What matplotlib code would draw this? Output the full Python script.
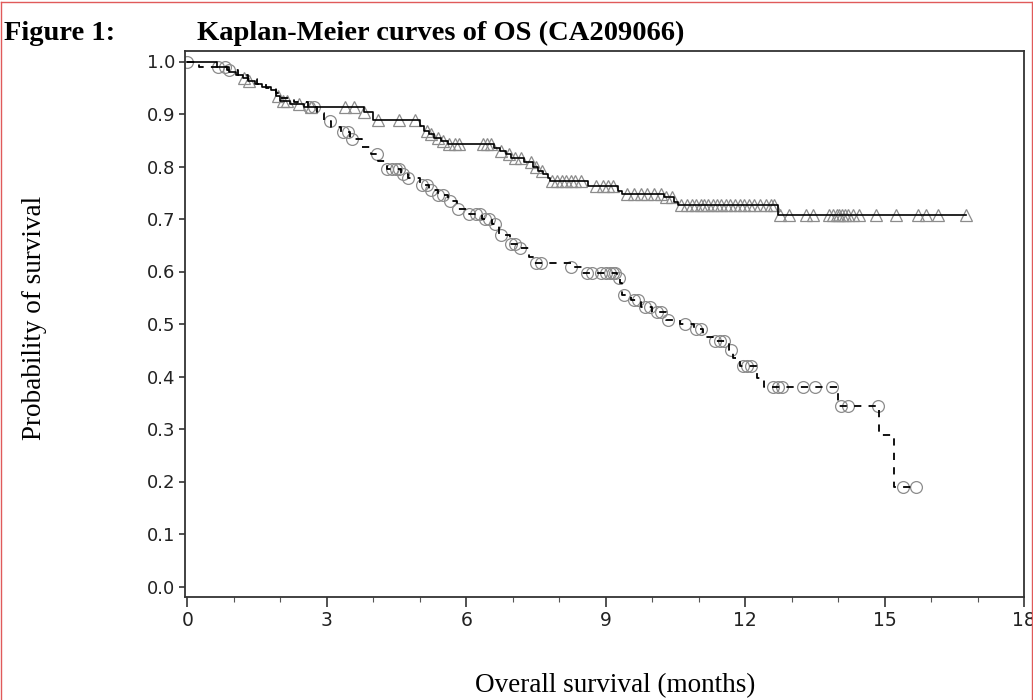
import numpy as np
import matplotlib
matplotlib.use("Agg")
import matplotlib.pyplot as plt
from matplotlib.lines import Line2D

# ---------------- data ----------------
# Nivolumab arm (solid line, triangle censor marks): event times (months) and survival after event
nivo_event_t = [0.64, 0.90, 1.05, 1.20, 1.30, 1.45, 1.60, 1.80, 1.90, 2.00, 2.20, 2.50,
                3.80, 4.00, 5.00, 5.10, 5.20, 5.30, 5.45, 5.60, 6.60, 6.72, 6.86, 6.97,
                7.25, 7.43, 7.55, 7.65, 7.76, 7.80, 8.61, 9.26, 9.35, 10.26, 10.48, 10.55, 12.70]
nivo_event_s = [0.989, 0.980, 0.975, 0.969, 0.963, 0.957, 0.951, 0.946, 0.935, 0.925, 0.920, 0.914,
                0.903, 0.889, 0.877, 0.868, 0.862, 0.855, 0.848, 0.842, 0.835, 0.829, 0.823, 0.817,
                0.809, 0.800, 0.792, 0.786, 0.778, 0.772, 0.763, 0.753, 0.748, 0.742, 0.733, 0.727, 0.707]
nivo_cens_t = [1.22, 1.32, 1.95, 2.05, 2.15, 2.40, 2.65, 3.40, 3.58, 3.80, 4.10, 4.55, 4.90,
               5.15, 5.25, 5.40, 5.50, 5.62, 5.75, 5.85, 6.36, 6.45, 6.54, 6.75, 6.93, 7.05, 7.18,
               7.40, 7.50, 7.62, 7.85, 7.95, 8.05, 8.15, 8.25, 8.35, 8.48, 8.80, 8.95, 9.05, 9.15,
               9.45, 9.60, 9.75, 9.90, 10.05, 10.20, 10.30, 10.42, 10.62, 10.75, 10.85, 10.95,
               11.05, 11.12, 11.20, 11.30, 11.40, 11.48, 11.58, 11.68, 11.78, 11.88, 11.98, 12.08,
               12.20, 12.32, 12.45, 12.55, 12.62, 12.74, 12.95, 13.31, 13.45, 13.81, 13.90, 13.97,
               14.03, 14.08, 14.14, 14.22, 14.32, 14.45, 14.82, 15.24, 15.71, 15.89, 16.14, 16.75]

# Dacarbazine arm (dashed line, circle censor marks)
dac_event_t = [0.25, 0.85, 1.10, 1.30, 1.50, 1.70, 1.90, 2.00, 2.30, 2.60, 2.80, 2.95, 3.10,
               3.30, 3.50, 3.75, 3.95, 4.10, 4.30, 4.60, 4.75, 5.00, 5.20, 5.40, 5.60, 5.80,
               6.05, 6.35, 6.55, 6.70, 6.95, 7.15, 7.35, 7.45, 8.25, 8.50, 9.25, 9.30, 9.35,
               9.55, 9.75, 10.00, 10.30, 10.60, 10.90, 11.10, 11.30, 11.65, 11.75, 11.90, 12.25,
               12.40, 13.99, 14.88, 15.20]
dac_event_s = [0.990, 0.983, 0.975, 0.966, 0.958, 0.950, 0.940, 0.930, 0.922, 0.913, 0.902, 0.886,
               0.876, 0.865, 0.852, 0.838, 0.824, 0.810, 0.795, 0.785, 0.778, 0.765, 0.755, 0.745,
               0.735, 0.720, 0.710, 0.700, 0.690, 0.670, 0.652, 0.645, 0.628, 0.617, 0.608, 0.597,
               0.588, 0.578, 0.556, 0.545, 0.532, 0.522, 0.507, 0.500, 0.490, 0.475, 0.467, 0.450,
               0.435, 0.420, 0.397, 0.380, 0.344, 0.288, 0.190]
dac_cens_t = [0.00, 0.65, 0.80, 0.90, 2.62, 2.72, 3.08, 3.35, 3.45, 3.55, 4.07, 4.30, 4.40, 4.50,
              4.55, 4.65, 4.75, 5.05, 5.15, 5.25, 5.40, 5.50, 5.65, 5.82, 6.07, 6.20, 6.30, 6.40,
              6.50, 6.62, 6.75, 6.97, 7.05, 7.15, 7.50, 7.60, 8.26, 8.60, 8.70, 8.90, 9.00, 9.10,
              9.15, 9.20, 9.28, 9.40, 9.60, 9.70, 9.85, 9.95, 10.10, 10.20, 10.34, 10.70, 10.95,
              11.05, 11.35, 11.45, 11.55, 11.70, 11.95, 12.05, 12.12, 12.60, 12.70, 12.80, 13.25,
              13.50, 13.88, 14.07, 14.22, 14.86, 15.39, 15.67]

x_ticks = [0, 3, 6, 9, 12, 15, 18]
y_ticks = [0.0, 0.1, 0.2, 0.3, 0.4, 0.5, 0.6, 0.7, 0.8, 0.9, 1.0]

title_left = "Figure 1:"
title_main = "Kaplan-Meier curves of OS (CA209066)"
x_label = "Overall survival (months)"
y_label = "Probability of survival"


def surv_at(times, ev_t, ev_s):
    ev_t = np.asarray(ev_t)
    s = np.concatenate([[1.0], np.asarray(ev_s)])
    idx = np.searchsorted(ev_t, np.asarray(times), side="right")
    return s[idx]


def step_xy(ev_t, ev_s, end_t):
    x = np.concatenate([[0.0], ev_t, [end_t]])
    y = np.concatenate([[1.0], ev_s, [ev_s[-1]]])
    return x, y


W, H = 1033, 700
fig = plt.figure(figsize=(W / 100, H / 100), dpi=100)
fig.patch.set_facecolor("white")

ax = fig.add_axes([185 / W, 1 - 597 / H, (1024 - 185) / W, (597 - 51) / H])

serif = ["Liberation Serif", "DejaVu Serif"]
sans = ["DejaVu Sans"]

mk_col = "#8c8c8c"

# dacarbazine
xs, ys = step_xy(dac_event_t, dac_event_s, max(dac_cens_t))
ax.plot(xs, ys, drawstyle="steps-post", color="black", lw=1.3,
        linestyle=(0, (4, 4)), zorder=3)
ax.plot(dac_cens_t, surv_at(dac_cens_t, dac_event_t, dac_event_s), linestyle="none",
        marker="o", markersize=8.5, markerfacecolor="none", markeredgecolor=mk_col,
        markeredgewidth=0.9, zorder=2)

# nivolumab
xs, ys = step_xy(nivo_event_t, nivo_event_s, max(nivo_cens_t))
ax.plot(xs, ys, drawstyle="steps-post", color="black", lw=1.2, zorder=3)
ax.plot(nivo_cens_t, surv_at(nivo_cens_t, nivo_event_t, nivo_event_s), linestyle="none",
        marker="^", markersize=8.5, markerfacecolor="none", markeredgecolor=mk_col,
        markeredgewidth=0.9, zorder=2)

ax.set_xlim(-0.05, 18.0)
ax.set_ylim(-0.02, 1.02)
ax.set_xticks(x_ticks)
ax.set_xticks(np.arange(0, 19, 1), minor=True)
ax.set_yticks(y_ticks)
ax.set_xticklabels([str(v) for v in x_ticks], fontsize=13.5, family=sans)
ax.set_yticklabels([f"{v:.1f}" for v in y_ticks], fontsize=13, family=sans)
ax.tick_params(axis="x", which="major", length=7, width=1.1, direction="out", pad=3, colors="#222222")
ax.tick_params(axis="x", which="minor", length=3.5, width=0.8, direction="out", colors="#555555")
ax.tick_params(axis="y", which="major", length=4, width=1.1, direction="out", pad=3, colors="#222222")
for sp in ax.spines.values():
    sp.set_color("#333333")
    sp.set_linewidth(1.3)

fig.text(4 / W, 1 - 40 / H, title_left, fontsize=20.5, fontweight="bold", family=serif,
         ha="left", va="baseline")
fig.text(197 / W, 1 - 40 / H, title_main, fontsize=20.5, fontweight="bold", family=serif,
         ha="left", va="baseline")
fig.text(615 / W, 1 - 686 / H, x_label, fontsize=19.5, family=serif, ha="center", va="center")
fig.text(35 / W, 1 - 318 / H, y_label, fontsize=19.5, family=serif, ha="center", va="center",
         rotation=90)

# page border (red)
red = "#e05a5a"
fig.add_artist(Line2D([0.5 / W, 0.5 / W], [0, 1 - 1.5 / H], color=red, lw=1.0, transform=fig.transFigure))
fig.add_artist(Line2D([0.5 / W, 1 - 1.5 / W], [1 - 1.5 / H, 1 - 1.5 / H], color=red, lw=1.0, transform=fig.transFigure))
fig.add_artist(Line2D([1 - 1.5 / W, 1 - 1.5 / W], [0, 1 - 1.5 / H], color=red, lw=1.0, transform=fig.transFigure))

fig.savefig("out.png", dpi=100, facecolor="white")
